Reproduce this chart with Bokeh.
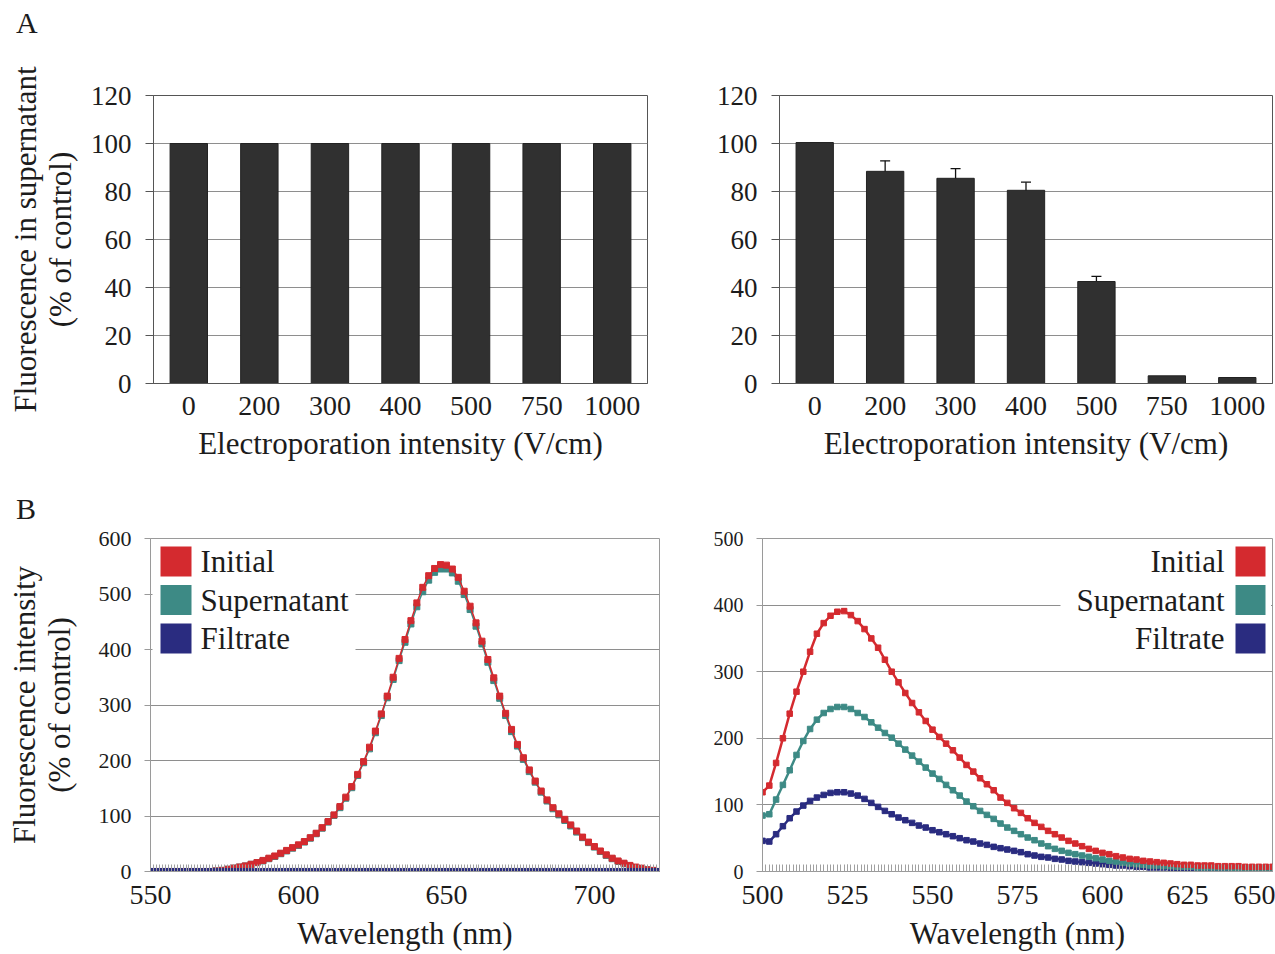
from bokeh.plotting import figure
from bokeh.models import (ColumnDataSource, FactorRange, Range1d, Whisker, TeeHead,
                          SingleIntervalTicker, FixedTicker, Label, BoxAnnotation, Div)
from bokeh.layouts import column, row
from bokeh.embed import file_html
from bokeh.resources import INLINE

SERIF = "Liberation Serif"
TXT = "#1c1c1c"
GRID = "#8e8e8e"
RED = "#d42a2f"
TEAL = "#3d8a85"
NAVY = "#2a2c80"

# ---------------- data: panel A ----------------
intensity = ["0", "200", "300", "400", "500", "750", "1000"]
supernatant_left = [100, 100, 100, 100, 100, 100, 100]
supernatant_right = [100.4, 88.4, 85.5, 80.5, 42.5, 3.2, 2.5]
err_lower = [95.8, 83.8, 80.9, 75.9, 40.2, None, None]
err_upper = [100.4, 92.8, 89.5, 83.9, 44.6, None, None]

# ---------------- data: panel B left (every 2 nm, 550-722) ----------------
wl_left = list(range(550, 723, 2))
initial_left = [0, 0, 0, 0, 0, 0, 0, 0, 0, 0, 0,
                1, 2, 4, 6, 8, 10, 13, 16, 20, 24, 28, 33, 38, 43, 48,
                54, 61, 69, 79, 90, 102, 117, 134, 153, 175,
                198, 224, 253, 284, 316, 350, 384, 418, 452, 484,
                512, 533, 546, 553, 552, 545, 530, 505, 478, 448,
                415, 382, 349, 316, 285, 256, 229, 205, 183, 163,
                145, 129, 115, 104, 94, 84, 73, 62, 53, 45,
                37, 30, 24, 19, 15, 11, 8, 6, 3, 2, 0]
supern_left = [0, 0, 0, 0, 0, 0, 0, 0, 0, 0, 0,
               1, 2, 4, 6, 8, 10, 13, 16, 19, 23, 27, 32, 37, 42, 47,
               53, 60, 68, 78, 89, 101, 115, 132, 151, 173,
               196, 221, 250, 281, 313, 346, 380, 413, 446, 477,
               504, 525, 539, 545, 545, 538, 523, 499, 472, 442,
               410, 377, 344, 312, 281, 252, 226, 202, 180, 161,
               143, 127, 113, 102, 92, 82, 71, 61, 52, 44,
               36, 29, 23, 18, 14, 10, 7, 5, 3, 1, 0]
filtrate_left = [1, 1, 1, 1, 1, 1, 1, 1, 1, 1, 1,
                 1, 1, 1, 1, 1, 1, 1, 1, 1, 1, 1, 1, 1, 1, 1,
                 1, 1, 1, 1, 1, 1, 1, 1, 1, 1,
                 1, 1, 1, 1, 1, 1, 1, 1, 1, 1,
                 1, 1, 1, 1, 1, 1, 1, 1, 1, 1,
                 1, 1, 1, 1, 1, 1, 1, 1, 1, 1,
                 1, 1, 1, 1, 1, 1, 1, 1, 1, 1,
                 1, 1, 1, 1, 1, 1, 1, 1, 1, 1, 1]

# ---------------- data: panel B right (every 2 nm, 500-650) ----------------
wl_right = list(range(500, 651, 2))
initial_right = [119, 129, 163, 200, 237, 270, 300, 330, 357, 373,
                 384, 390, 391, 385, 376, 364, 350, 336, 318, 300,
                 284, 268, 253, 239, 226, 213, 202, 192, 182, 171,
                 160, 150, 140, 131, 122, 111, 103, 95, 88, 80,
                 73, 67, 61, 56, 51, 46, 42, 38, 34, 31,
                 28, 26, 23, 21, 19, 18, 16, 15, 14, 13,
                 12, 11, 10, 10, 9, 9, 9, 8, 8, 8,
                 8, 7, 7, 7, 7, 7]
supern_right = [84, 86, 108, 130, 152, 175, 196, 214, 228, 238,
                244, 247, 247, 244, 238, 232, 224, 216, 208, 201,
                192, 183, 174, 165, 156, 147, 139, 130, 122, 114,
                105, 98, 91, 85, 79, 72, 66, 61, 56, 51,
                47, 42, 38, 34, 31, 28, 26, 24, 22, 20,
                18, 16, 15, 13, 12, 11, 10, 9, 9, 8,
                8, 7, 7, 7, 6, 6, 6, 6, 6, 5,
                5, 5, 5, 5, 5, 5]
filtrate_right = [46, 45, 56, 68, 80, 90, 99, 106, 111, 115,
                  118, 119, 119, 117, 114, 109, 103, 97, 91, 86,
                  81, 77, 73, 69, 66, 62, 59, 56, 53, 50,
                  47, 45, 42, 40, 37, 35, 33, 31, 29, 26,
                  24, 22, 21, 19, 18, 16, 15, 14, 13, 12,
                  11, 10, 9, 9, 8, 7, 7, 6, 6, 6,
                  5, 5, 5, 5, 5, 5, 4, 4, 4, 4,
                  4, 4, 4, 4, 4, 4]

series_names = ["Initial", "Supernatant", "Filtrate"]
series_colors = [RED, TEAL, NAVY]


def style_axes(p, xtick_size, ytick_size, ytick_out=8):
    p.background_fill_color = "white"
    p.border_fill_color = "white"
    p.outline_line_color = "#555555"
    p.outline_line_width = 1
    p.xgrid.grid_line_color = None
    p.ygrid.grid_line_color = GRID
    p.ygrid.grid_line_width = 1.2
    for ax in (p.xaxis[0], p.yaxis[0]):
        ax.major_label_text_font = SERIF
        ax.major_label_text_color = TXT
        ax.axis_label_text_font = SERIF
        ax.axis_label_text_font_size = "31px"
        ax.axis_label_text_font_style = "normal"
        ax.axis_label_text_color = TXT
        ax.axis_label_text_line_height = 1.0
        ax.axis_line_color = "#555555"
        ax.minor_tick_line_color = None
    p.xaxis.major_label_text_font_size = xtick_size
    p.yaxis.major_label_text_font_size = ytick_size
    p.yaxis.major_tick_out = ytick_out
    p.yaxis.major_tick_in = 0
    p.yaxis.major_tick_line_color = "#555555"


def bar_panel(values, width, border_left, border_right, ylabel=None, errors=False):
    p = figure(x_range=FactorRange(*intensity), y_range=Range1d(0, 120),
               width=width, height=436, output_backend="svg", toolbar_location=None,
               min_border_left=border_left, min_border_right=border_right,
               min_border_top=47, min_border_bottom=101)
    src = ColumnDataSource(dict(x=intensity, top=values))
    p.vbar(x="x", top="top", width=0.53, source=src, fill_color="#303030",
           line_color="#222222", line_width=1)
    style_axes(p, "28px", "27px")
    p.yaxis.ticker = FixedTicker(ticks=[0, 20, 40, 60, 80, 100, 120])
    p.yaxis.major_label_standoff = 14
    p.xaxis.major_tick_out = 0
    p.xaxis.major_tick_in = 0
    p.xaxis.major_label_standoff = 13
    p.xaxis.axis_label = "Electroporation intensity (V/cm)"
    p.xaxis.axis_label_standoff = 8
    if ylabel:
        p.yaxis.axis_label = ylabel
        p.yaxis.axis_label_standoff = 10
    if errors:
        idx = [i for i in range(len(intensity)) if err_lower[i] is not None]
        esrc = ColumnDataSource(dict(x=[intensity[i] for i in idx],
                                     lo=[err_lower[i] for i in idx],
                                     hi=[err_upper[i] for i in idx]))
        w = Whisker(source=esrc, base="x", lower="lo", upper="hi",
                    line_color="#111111", line_width=1.3,
                    upper_head=TeeHead(size=10, line_color="#111111", line_width=1.3),
                    lower_head=TeeHead(size=10, line_color="#111111", line_width=1.3))
        p.add_layout(w)
    return p


pA1 = bar_panel(supernatant_left, 668, 153, 21,
                ylabel="Fluorescence in supernatant\n(% of control)")
pA2 = bar_panel(supernatant_right, 607, 111, 3, errors=True)

BOT_TOP = 14
BOT_FRAME = 333
BOT_BOTTOM = 82
BOT_H = BOT_TOP + BOT_FRAME + BOT_BOTTOM


def spectrum_panel(width, border_left, border_right, x0, x1, y1, interval, ytick_size,
                   ylabel=None):
    p = figure(x_range=Range1d(x0, x1), y_range=Range1d(0, y1),
               width=width, height=BOT_H, output_backend="svg", toolbar_location=None,
               min_border_left=border_left, min_border_right=border_right,
               min_border_top=BOT_TOP, min_border_bottom=BOT_BOTTOM)
    style_axes(p, "28px", ytick_size, ytick_out=6)
    p.outline_line_color = "#9a9a9a"
    p.yaxis.ticker = FixedTicker(ticks=list(range(0, y1 + 1, 100)))
    p.yaxis.major_label_standoff = 13
    p.yaxis.axis_line_color = "#9a9a9a"
    p.yaxis.major_tick_line_color = "#9a9a9a"
    p.xaxis.ticker = SingleIntervalTicker(interval=interval, num_minor_ticks=interval)
    p.xaxis.major_tick_in = 7
    p.xaxis.major_tick_out = 0
    p.xaxis.minor_tick_in = 7
    p.xaxis.minor_tick_out = 0
    p.xaxis.major_tick_line_color = "#a0a0a0"
    p.xaxis.minor_tick_line_color = "#a0a0a0"
    p.xaxis.axis_line_color = "#9a9a9a"
    p.xaxis.major_label_standoff = 14
    p.xaxis.axis_label = "Wavelength (nm)"
    p.xaxis.axis_label_standoff = 9
    if ylabel:
        p.yaxis.axis_label = ylabel
        p.yaxis.axis_label_standoff = 19
    return p


def add_legend(p, x0, x1, y1, frame_w, frame_h, text_right):
    """Legend built from annotations, placed by pixel offsets from the frame's top corner."""
    sx = (x1 - x0) / frame_w
    sy = y1 / frame_h
    if text_right:
        p.add_layout(BoxAnnotation(left=x0 + 2 * sx, right=x0 + 205 * sx,
                                   bottom=y1 - 125 * sy, top=y1 - 1.5 * sy,
                                   fill_color="white", fill_alpha=1, line_alpha=0))
    else:
        p.add_layout(BoxAnnotation(left=x1 - 212 * sx, right=x1 - 1.5 * sx,
                                   bottom=y1 - 125 * sy, top=y1 - 1.5 * sy,
                                   fill_color="white", fill_alpha=1, line_alpha=0))
    for k, (name, col) in enumerate(zip(series_names, series_colors)):
        top_px = 8 + 38.5 * k
        if text_right:
            left, right = x0 + 10 * sx, x0 + 41 * sx
            tx, align = x0 + 50 * sx, "left"
        else:
            left, right = x1 - 37 * sx, x1 - 7 * sx
            tx, align = x1 - 48 * sx, "right"
        p.add_layout(BoxAnnotation(left=left, right=right,
                                   top=y1 - top_px * sy, bottom=y1 - (top_px + 30) * sy,
                                   fill_color=col, fill_alpha=1, line_alpha=0))
        p.add_layout(Label(x=tx, y=y1 - (top_px + 15) * sy, text=name,
                           text_align=align, text_baseline="middle",
                           text_font=SERIF, text_font_size="31px", text_color=TXT))


# ---- B left ----
BL_W, BL_L, BL_R = 700, 150, 41
pB1 = spectrum_panel(BL_W, BL_L, BL_R, 550, 722, 600, 50, "22px",
                     ylabel="Fluorescence intensity\n(% of control)")
sB1 = ColumnDataSource(dict(x=wl_left, ini=initial_left, sup=supern_left, fil=filtrate_left))
pB1.line("x", "sup", source=sB1, line_color=TEAL, line_width=1.5)
pB1.scatter("x", "sup", source=sB1, marker="square", size=6, fill_color=TEAL, line_color=TEAL)
pB1.line("x", "ini", source=sB1, line_color=RED, line_width=1.5)
pB1.scatter("x", "ini", source=sB1, marker="square", size=6, fill_color=RED, line_color=RED)
pB1.line("x", "fil", source=sB1, line_color=NAVY, line_width=4)
pB1.scatter("x", "fil", source=sB1, marker="square", size=5, fill_color=NAVY, line_color=NAVY)
add_legend(pB1, 550, 722, 600, BL_W - BL_L - BL_R, BOT_FRAME, True)

# ---- B right ----
BR_W, BR_L, BR_R = 575, 62, 3
pB2 = spectrum_panel(BR_W, BR_L, BR_R, 500, 650, 500, 25, "20px")
sB2 = ColumnDataSource(dict(x=wl_right, ini=initial_right, sup=supern_right, fil=filtrate_right))
for key, col in (("fil", NAVY), ("sup", TEAL), ("ini", RED)):
    pB2.line("x", key, source=sB2, line_color=col, line_width=2.5)
    pB2.scatter("x", key, source=sB2, marker="square", size=5.5, fill_color=col, line_color=col)
add_legend(pB2, 500, 650, 500, BR_W - BR_L - BR_R, BOT_FRAME, False)

divA = Div(text="A", width=100, height=45, margin=(3, 0, 0, 16),
           styles={"font-family": SERIF, "font-size": "30px", "line-height": "1.3",
                   "color": TXT})
divB = Div(text="B", width=100, height=35, margin=(5, 0, 0, 16),
           styles={"font-family": SERIF, "font-size": "30px", "line-height": "1.3",
                   "color": TXT})

layout = column(divA, row(pA1, pA2), divB, row(pB1, pB2))
open("out.html", "w").write(file_html(layout, INLINE))
